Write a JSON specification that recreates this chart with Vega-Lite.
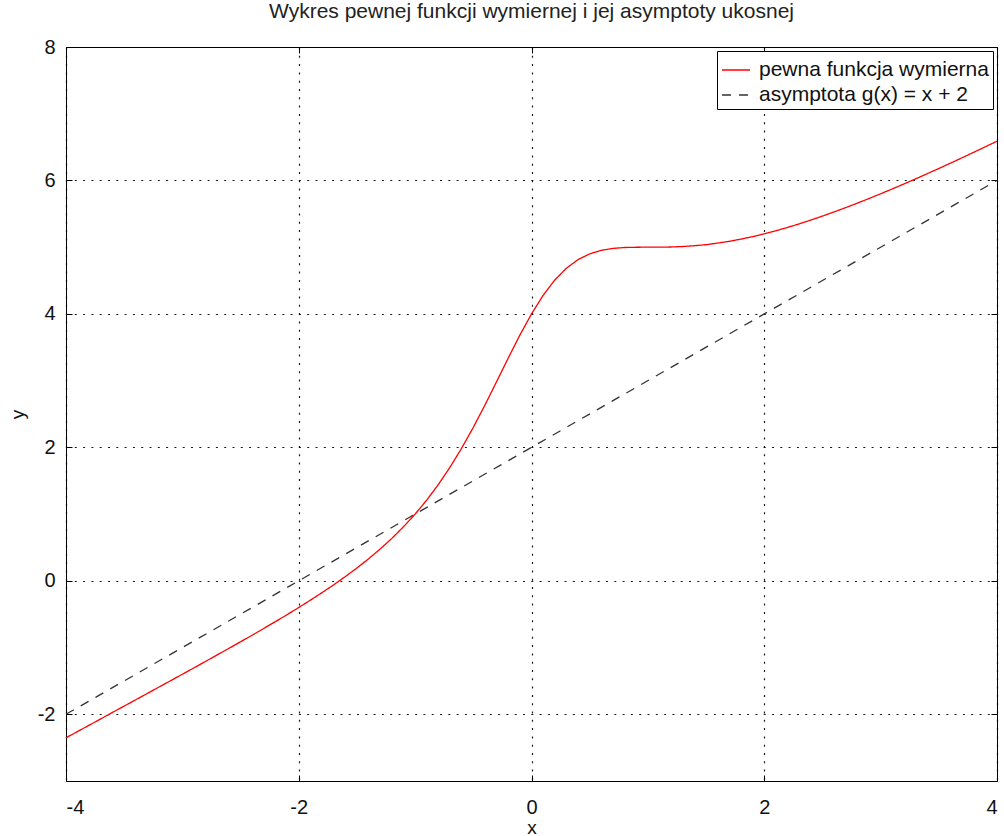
{
  "$schema": "https://vega.github.io/schema/vega-lite/v6.json",
  "autosize": "none",
  "width": 931,
  "height": 734,
  "padding": {"left": 66, "top": 47, "right": 7, "bottom": 55},
  "background": "white",
  "title": {"text": "Wykres pewnej funkcji wymiernej i jej asymptoty ukosnej", "font": "Liberation Sans", "fontSize": 21, "fontWeight": "normal", "color": "#222222", "offset": 15},
  "config": {
    "view": {"stroke": "black", "strokeWidth": 1},
    "axis": {"labelFont": "Liberation Sans", "labelFontSize": 20, "labelColor": "#111111", "titleFont": "Liberation Sans", "titleFontSize": 19, "titleFontWeight": "normal", "titleColor": "#111111", "domain": false, "tickColor": "black", "tickSize": -6, "gridColor": "black", "gridDash": [2, 6.3], "gridOpacity": 0.9, "gridWidth": 1.2}
  },
  "data": {"values": [
      {"series": "asymptota g(x) = x + 2", "x": -4.0, "y": -2.0}, {"series": "asymptota g(x) = x + 2", "x": 4.0, "y": 6.0},
      {"series": "pewna funkcja wymierna", "x": -4.0, "y": -2.353}, {"series": "pewna funkcja wymierna", "x": -3.9, "y": -2.258}, {"series": "pewna funkcja wymierna", "x": -3.8, "y": -2.163}, {"series": "pewna funkcja wymierna", "x": -3.7, "y": -2.068}, {"series": "pewna funkcja wymierna", "x": -3.6, "y": -1.972},
      {"series": "pewna funkcja wymierna", "x": -3.5, "y": -1.877}, {"series": "pewna funkcja wymierna", "x": -3.4, "y": -1.782}, {"series": "pewna funkcja wymierna", "x": -3.3, "y": -1.687}, {"series": "pewna funkcja wymierna", "x": -3.2, "y": -1.591}, {"series": "pewna funkcja wymierna", "x": -3.1, "y": -1.496},
      {"series": "pewna funkcja wymierna", "x": -3.0, "y": -1.4}, {"series": "pewna funkcja wymierna", "x": -2.9, "y": -1.304}, {"series": "pewna funkcja wymierna", "x": -2.8, "y": -1.207}, {"series": "pewna funkcja wymierna", "x": -2.7, "y": -1.11}, {"series": "pewna funkcja wymierna", "x": -2.6, "y": -1.012},
      {"series": "pewna funkcja wymierna", "x": -2.5, "y": -0.914}, {"series": "pewna funkcja wymierna", "x": -2.4, "y": -0.814}, {"series": "pewna funkcja wymierna", "x": -2.3, "y": -0.713}, {"series": "pewna funkcja wymierna", "x": -2.2, "y": -0.611}, {"series": "pewna funkcja wymierna", "x": -2.1, "y": -0.507},
      {"series": "pewna funkcja wymierna", "x": -2.0, "y": -0.4}, {"series": "pewna funkcja wymierna", "x": -1.9, "y": -0.29}, {"series": "pewna funkcja wymierna", "x": -1.8, "y": -0.177}, {"series": "pewna funkcja wymierna", "x": -1.7, "y": -0.06}, {"series": "pewna funkcja wymierna", "x": -1.6, "y": 0.063},
      {"series": "pewna funkcja wymierna", "x": -1.5, "y": 0.192}, {"series": "pewna funkcja wymierna", "x": -1.4, "y": 0.33}, {"series": "pewna funkcja wymierna", "x": -1.3, "y": 0.477}, {"series": "pewna funkcja wymierna", "x": -1.2, "y": 0.636}, {"series": "pewna funkcja wymierna", "x": -1.1, "y": 0.81},
      {"series": "pewna funkcja wymierna", "x": -1.0, "y": 1.0}, {"series": "pewna funkcja wymierna", "x": -0.9, "y": 1.21}, {"series": "pewna funkcja wymierna", "x": -0.8, "y": 1.444}, {"series": "pewna funkcja wymierna", "x": -0.7, "y": 1.703}, {"series": "pewna funkcja wymierna", "x": -0.6, "y": 1.988},
      {"series": "pewna funkcja wymierna", "x": -0.5, "y": 2.3}, {"series": "pewna funkcja wymierna", "x": -0.4, "y": 2.634}, {"series": "pewna funkcja wymierna", "x": -0.3, "y": 2.984}, {"series": "pewna funkcja wymierna", "x": -0.2, "y": 3.338}, {"series": "pewna funkcja wymierna", "x": -0.1, "y": 3.682},
      {"series": "pewna funkcja wymierna", "x": 0.0, "y": 4.0}, {"series": "pewna funkcja wymierna", "x": 0.1, "y": 4.278}, {"series": "pewna funkcja wymierna", "x": 0.2, "y": 4.508}, {"series": "pewna funkcja wymierna", "x": 0.3, "y": 4.685}, {"series": "pewna funkcja wymierna", "x": 0.4, "y": 4.814},
      {"series": "pewna funkcja wymierna", "x": 0.5, "y": 4.9}, {"series": "pewna funkcja wymierna", "x": 0.6, "y": 4.953}, {"series": "pewna funkcja wymierna", "x": 0.7, "y": 4.982}, {"series": "pewna funkcja wymierna", "x": 0.8, "y": 4.995}, {"series": "pewna funkcja wymierna", "x": 0.9, "y": 4.999},
      {"series": "pewna funkcja wymierna", "x": 1.0, "y": 5.0}, {"series": "pewna funkcja wymierna", "x": 1.1, "y": 5.0}, {"series": "pewna funkcja wymierna", "x": 1.2, "y": 5.003}, {"series": "pewna funkcja wymierna", "x": 1.3, "y": 5.01}, {"series": "pewna funkcja wymierna", "x": 1.4, "y": 5.022},
      {"series": "pewna funkcja wymierna", "x": 1.5, "y": 5.038}, {"series": "pewna funkcja wymierna", "x": 1.6, "y": 5.061}, {"series": "pewna funkcja wymierna", "x": 1.7, "y": 5.088}, {"series": "pewna funkcja wymierna", "x": 1.8, "y": 5.121}, {"series": "pewna funkcja wymierna", "x": 1.9, "y": 5.158},
      {"series": "pewna funkcja wymierna", "x": 2.0, "y": 5.2}, {"series": "pewna funkcja wymierna", "x": 2.1, "y": 5.246}, {"series": "pewna funkcja wymierna", "x": 2.2, "y": 5.296}, {"series": "pewna funkcja wymierna", "x": 2.3, "y": 5.349}, {"series": "pewna funkcja wymierna", "x": 2.4, "y": 5.406},
      {"series": "pewna funkcja wymierna", "x": 2.5, "y": 5.466}, {"series": "pewna funkcja wymierna", "x": 2.6, "y": 5.528}, {"series": "pewna funkcja wymierna", "x": 2.7, "y": 5.593}, {"series": "pewna funkcja wymierna", "x": 2.8, "y": 5.66}, {"series": "pewna funkcja wymierna", "x": 2.9, "y": 5.729},
      {"series": "pewna funkcja wymierna", "x": 3.0, "y": 5.8}, {"series": "pewna funkcja wymierna", "x": 3.1, "y": 5.873}, {"series": "pewna funkcja wymierna", "x": 3.2, "y": 5.947}, {"series": "pewna funkcja wymierna", "x": 3.3, "y": 6.023}, {"series": "pewna funkcja wymierna", "x": 3.4, "y": 6.101},
      {"series": "pewna funkcja wymierna", "x": 3.5, "y": 6.179}, {"series": "pewna funkcja wymierna", "x": 3.6, "y": 6.259}, {"series": "pewna funkcja wymierna", "x": 3.7, "y": 6.34}, {"series": "pewna funkcja wymierna", "x": 3.8, "y": 6.422}, {"series": "pewna funkcja wymierna", "x": 3.9, "y": 6.505},
      {"series": "pewna funkcja wymierna", "x": 4.0, "y": 6.588}
  ]},
  "layer": [
    {
      "mark": {"type": "line", "strokeWidth": 1.3},
      "encoding": {
        "x": {"field": "x", "type": "quantitative", "scale": {"domain": [-4, 4], "nice": false, "zero": false}, "axis": {"values": [-4, -2, 0, 2, 4], "labelExpr": "datum.value + ''", "title": "x", "titlePadding": 1, "labelPadding": 22}},
        "y": {"field": "y", "type": "quantitative", "scale": {"domain": [-3, 8], "nice": false, "zero": false}, "axis": {"values": [-2, 0, 2, 4, 6, 8], "labelExpr": "datum.value + ''", "title": "y", "titlePadding": 10, "labelPadding": 17}},
        "color": {"field": "series", "type": "nominal", "scale": {"domain": ["pewna funkcja wymierna", "asymptota g(x) = x + 2"], "range": ["#ff0000", "#333333"]}, "legend": {"title": null, "orient": "top-right", "offset": 4, "labelFont": "Liberation Sans", "labelFontSize": 21, "labelColor": "#111111", "labelLimit": 500, "symbolType": "stroke", "symbolSize": 784, "symbolStrokeWidth": 1.3, "strokeColor": "black", "fillColor": "white", "padding": 4, "rowPadding": 0, "labelOffset": 8, "cornerRadius": 0}},
        "strokeDash": {"field": "series", "type": "nominal", "scale": {"domain": ["pewna funkcja wymierna", "asymptota g(x) = x + 2"], "range": [[1, 0], [9, 8]]}, "legend": {"title": null}},
        "order": {"field": "x", "type": "quantitative"}
      }
    },
    {
      "mark": {"type": "point", "opacity": 0},
      "encoding": {
        "x": {"field": "x", "type": "quantitative", "axis": {"orient": "top", "values": [-4, -2, 0, 2, 4], "labels": false, "title": null, "grid": false}},
        "y": {"field": "y", "type": "quantitative", "axis": {"orient": "right", "values": [-2, 0, 2, 4, 6, 8], "labels": false, "title": null, "grid": false}}
      }
    }
  ],
  "resolve": {"axis": {"x": "independent", "y": "independent"}}
}
